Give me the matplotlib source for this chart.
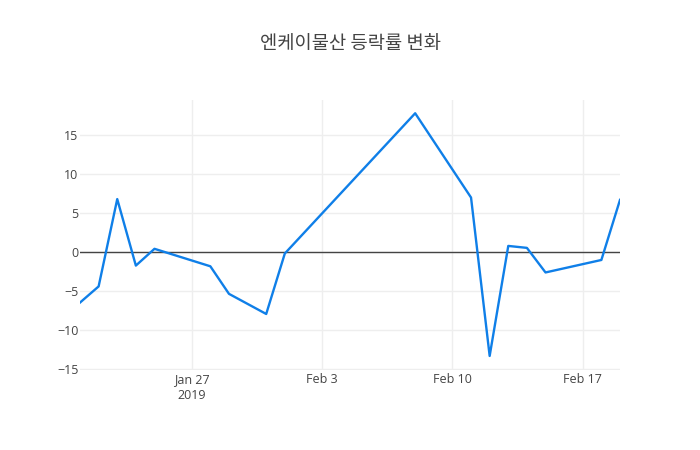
import matplotlib
matplotlib.use("Agg")
import matplotlib.pyplot as plt
import pandas as pd

dates = ["2019-01-21", "2019-01-22", "2019-01-23", "2019-01-24", "2019-01-25",
         "2019-01-28", "2019-01-29", "2019-01-31", "2019-02-01", "2019-02-08",
         "2019-02-11", "2019-02-12", "2019-02-13", "2019-02-14", "2019-02-15",
         "2019-02-18", "2019-02-19"]
changes = [-6.46, -4.39, 6.8, -1.72, 0.43,
           -1.81, -5.34, -7.92, -0.17, 17.8,
           7.0, -13.3, 0.8, 0.55, -2.6,
           -1.0, 6.7]
tick_dates = ["2019-01-27", "2019-02-03", "2019-02-10", "2019-02-17"]
tick_labels = ["Jan 27\n2019", "Feb 3", "Feb 10", "Feb 17"]
title = "엔케이물산 등락률 변화"

plt.rcParams["font.family"] = ["Open Sans", "Noto Sans CJK KR", "DejaVu Sans"]

x = pd.to_datetime(dates)
fig = plt.figure(figsize=(7, 4.5), dpi=100)
ax = fig.add_axes([80 / 700, 80 / 450, 540 / 700, 270 / 450])

ax.plot(x, changes, color="#0f7fe8", linewidth=1.7, zorder=3)
ax.axhline(0, color="#444444", linewidth=1, zorder=2)

ax.set_xlim(x[0], x[-1])
ax.set_ylim(-15.1, 19.5)
ax.set_yticks([-15, -10, -5, 0, 5, 10, 15])
ax.set_yticklabels(["\u221215", "\u221210", "\u22125", "0", "5", "10", "15"])
ax.set_xticks(pd.to_datetime(tick_dates))
ax.set_xticklabels(tick_labels, linespacing=1.3)

ax.grid(True, color="#eeeeee", linewidth=1, zorder=0)
for s in ax.spines.values():
    s.set_visible(False)
ax.tick_params(length=0, labelsize=9, colors="#444444")
ax.tick_params(axis="x", pad=2)
ax.tick_params(axis="y", pad=1)

fig.text(0.5, 1 - 44 / 450, title, ha="center", va="center",
         fontsize=13.5, color="#444444", family=["Noto Sans CJK KR", "DejaVu Sans"])

fig.savefig("out.png", dpi=100)
plt.close()
